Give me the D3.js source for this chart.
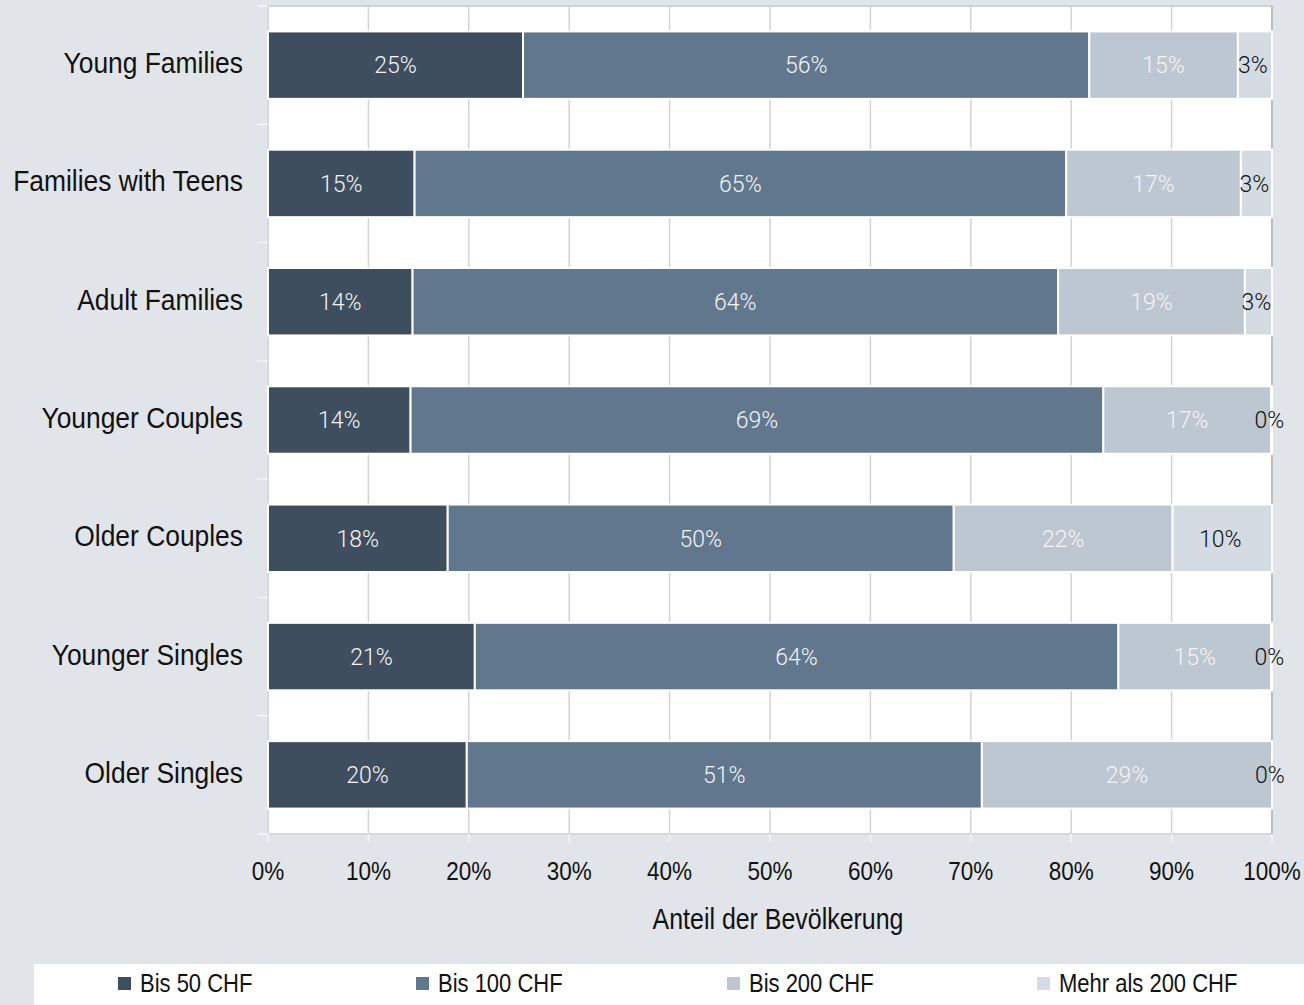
<!DOCTYPE html>
<html>
<head>
<meta charset="utf-8">
<script src="https://cdn.jsdelivr.net/npm/d3@7"></script>
<style>
  html, body { margin: 0; padding: 0; background: #e1e5e9; }
  svg { display: block; }
  .narrow { font-family: "Liberation Sans", Arial, sans-serif; fill: #111; }
  .bar-label { font-family: Roboto, sans-serif; font-weight: 300; font-size: 23px; }
</style>
</head>
<body>
<svg id="chart" width="1304" height="1005"></svg>
<script>
const categories = ["Young Families", "Families with Teens", "Adult Families", "Younger Couples", "Older Couples", "Younger Singles", "Older Singles"];
const seriesNames = ["Bis 50 CHF", "Bis 100 CHF", "Bis 200 CHF", "Mehr als 200 CHF"];
const bis50 = [25.4, 14.6, 14.4, 14.2, 17.9, 20.6, 19.8];
const bis100 = [56.4, 64.9, 64.3, 69.0, 50.4, 64.1, 51.3];
const bis200 = [14.8, 17.4, 18.6, 16.7, 21.8, 15.2, 28.9];
const mehr200 = [3.4, 3.1, 2.7, 0.1, 9.9, 0.1, 0];
const xTicks = [0, 10, 20, 30, 40, 50, 60, 70, 80, 90, 100];
const xTitle = "Anteil der Bevölkerung";

const colors = ["#3e4e5f", "#60778e", "#bdc7d2", "#d4dbe2"];
const labelColors = ["#f4f4f4", "#f4f4f4", "#f4f4f4", "#111"];

// rows for d3.stack
const rows = categories.map((c, i) => ({
  category: c,
  [seriesNames[0]]: bis50[i],
  [seriesNames[1]]: bis100[i],
  [seriesNames[2]]: bis200[i],
  [seriesNames[3]]: mehr200[i]
}));

const svg = d3.select("#chart");
const margin = { top: 6, left: 268, right: 32, bottom: 171 };
const W = 1304, H = 1005;
const chartWidth = W - margin.left - margin.right;
const chartHeight = H - margin.top - margin.bottom;

const g = svg.append("g").attr("transform", `translate(${margin.left},${margin.top})`);

const x = d3.scaleLinear().domain([0, 100]).range([0, chartWidth]);
const y = d3.scaleBand().domain(categories).range([0, chartHeight]).paddingInner(0.43).paddingOuter(0.215);

// condensed-looking text: no narrow font installed, so squeeze horizontally
function narrowText(sel, px, py, size, sx, anchor, txt) {
  sel.append("g")
    .attr("transform", `translate(${px},${py}) scale(${sx},1)`)
    .append("text")
    .attr("class", "narrow")
    .style("font-size", size + "px")
    .attr("text-anchor", anchor)
    .text(txt);
}

// plot background
g.append("rect")
  .attr("width", chartWidth)
  .attr("height", chartHeight)
  .attr("fill", "#fff");

// vertical gridlines
g.selectAll(".grid")
  .data(xTicks)
  .enter()
  .append("line")
  .attr("x1", d => x(d))
  .attr("x2", d => x(d))
  .attr("y1", 0)
  .attr("y2", chartHeight)
  .attr("stroke", "#d3d3d3")
  .attr("stroke-width", 1.5);

// frame
g.append("line").attr("x1", 0).attr("x2", chartWidth).attr("y1", 0).attr("y2", 0)
  .attr("stroke", "#cfd2d5").attr("stroke-width", 2);
g.append("line").attr("x1", 0).attr("x2", chartWidth).attr("y1", chartHeight).attr("y2", chartHeight)
  .attr("stroke", "#d6d9dc").attr("stroke-width", 2);
g.append("line").attr("x1", 0).attr("x2", 0).attr("y1", 0).attr("y2", chartHeight)
  .attr("stroke", "#d6d9dc").attr("stroke-width", 2);
g.append("line").attr("x1", chartWidth).attr("x2", chartWidth).attr("y1", 0).attr("y2", chartHeight)
  .attr("stroke", "#bcbcbc").attr("stroke-width", 2);

// y tick marks at category boundaries
const step = y.step();
g.selectAll(".ytick")
  .data(d3.range(categories.length + 1))
  .enter()
  .append("line")
  .attr("x1", -11).attr("x2", 0)
  .attr("y1", d => d * step)
  .attr("y2", d => d * step)
  .attr("stroke", "#f4f5f6")
  .attr("stroke-width", 1.5);

// x tick marks below axis
g.selectAll(".xtick")
  .data(xTicks)
  .enter()
  .append("line")
  .attr("x1", d => x(d)).attr("x2", d => x(d))
  .attr("y1", chartHeight).attr("y2", chartHeight + 8)
  .attr("stroke", "#f4f5f6")
  .attr("stroke-width", 1.5);

// stacked bars
const stacked = d3.stack().keys(seriesNames)(rows);

const layers = g.selectAll(".layer")
  .data(stacked)
  .enter()
  .append("g")
  .attr("class", "layer")
  .attr("fill", (d, i) => colors[i]);

layers.selectAll("rect")
  .data(d => d)
  .enter()
  .append("rect")
  .attr("x", d => x(d[0]))
  .attr("y", d => y(d.data.category))
  .attr("width", d => x(d[1]) - x(d[0]))
  .attr("height", y.bandwidth())
  .attr("stroke", "#fff")
  .attr("stroke-width", 2);

// segment labels
stacked.forEach((layer, i) => {
  g.selectAll(".lbl" + i)
    .data(layer)
    .enter()
    .append("text")
    .attr("class", "bar-label")
    .attr("x", d => x((d[0] + d[1]) / 2) - (i === 3 ? 2 : 0))
    .attr("y", d => y(d.data.category) + y.bandwidth() / 2)
    .attr("dy", "0.36em")
    .attr("text-anchor", "middle")
    .attr("fill", labelColors[i])
    .text(d => Math.round(d[1] - d[0]) + "%");
});

// category labels
categories.forEach(c => {
  narrowText(g, -25, y(c) + y.bandwidth() / 2 + 8, 30, 0.88, "end", c);
});

// x tick labels
xTicks.forEach(t => {
  narrowText(g, x(t), chartHeight + 46, 25, 0.9, "middle", t + "%");
});

// axis title
narrowText(g, chartWidth / 2 + 8, chartHeight + 95, 29, 0.86, "middle", xTitle);

// legend
svg.append("rect")
  .attr("x", 34).attr("y", 964)
  .attr("width", W - 34).attr("height", H - 964)
  .attr("fill", "#fff");

const legendX = [118, 416, 727, 1037];
seriesNames.forEach((s, i) => {
  svg.append("rect")
    .attr("x", legendX[i]).attr("y", 977)
    .attr("width", 13).attr("height", 13)
    .attr("fill", colors[i]);
  narrowText(svg, legendX[i] + 22, 992, 25, 0.88, "start", s);
});
</script>
</body>
</html>
